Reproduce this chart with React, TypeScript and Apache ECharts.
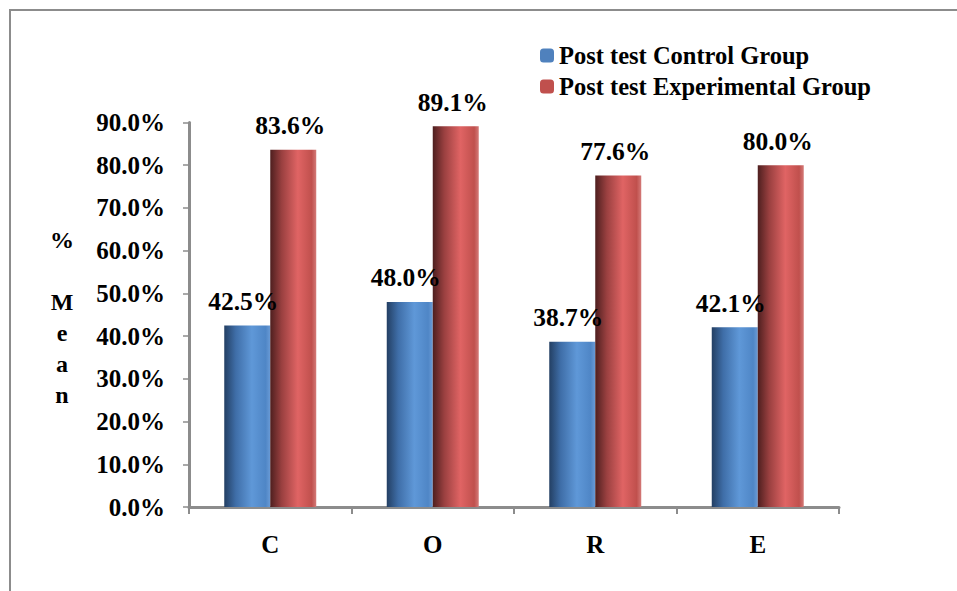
import React, { useEffect, useRef } from "react";
import * as echarts from "echarts";

const categories = ["C", "O", "R", "E"];
const controlValues = [42.5, 48.0, 38.7, 42.1];
const experimentalValues = [83.6, 89.1, 77.6, 80.0];
const seriesNames = ["Post test Control Group", "Post test Experimental Group"];
const yTicks = [0, 10, 20, 30, 40, 50, 60, 70, 80, 90];

const FONT = "'Liberation Serif', 'Times New Roman', serif";

const blueGrad = new echarts.graphic.LinearGradient(0, 0, 1, 0, [
  { offset: 0, color: "#233f63" },
  { offset: 0.25, color: "#3f6ea8" },
  { offset: 0.6, color: "#5f98d8" },
  { offset: 0.9, color: "#4f86c6" },
  { offset: 1, color: "#6a9bd6" },
]);
const redGrad = new echarts.graphic.LinearGradient(0, 0, 1, 0, [
  { offset: 0, color: "#4e1f1f" },
  { offset: 0.25, color: "#9a4040" },
  { offset: 0.6, color: "#e06464" },
  { offset: 0.9, color: "#c0504d" },
  { offset: 1, color: "#d47a78" },
]);

export default function App() {
  const ref = useRef<HTMLDivElement>(null);
  useEffect(() => {
    const chart = echarts.init(ref.current!, null, { renderer: "svg" });
    const labelStyle = {
      show: true,
      position: "top",
      distance: 11,
      fontFamily: FONT,
      fontWeight: "bold",
      fontSize: 25.5,
      color: "#000",
      formatter: (p: any) => p.value.toFixed(1) + "%",
    };
    chart.setOption({
      animation: false,
      backgroundColor: "#fff",
      graphic: [
        {
          type: "rect",
          shape: { x: 10, y: 10, width: 980, height: 620 },
          style: { fill: "none", stroke: "#8c8c8c", lineWidth: 2 },
          silent: true,
        },
        {
          type: "text",
          x: 62,
          y: 224,
          style: {
            text: "%\n\nM\ne\na\nn",
            fontFamily: FONT,
            fontWeight: "bold",
            fontSize: 24,
            lineHeight: 31,
            align: "center",
            fill: "#000",
          },
        },
      ],
      legend: {
        orient: "vertical",
        left: 535,
        top: 38,
        itemWidth: 14,
        itemHeight: 14,
        itemGap: 6,
        textStyle: { fontFamily: FONT, fontWeight: "bold", fontSize: 24.5, color: "#000" },
        data: [
          { name: seriesNames[0], itemStyle: { color: "#4f81bd" } },
          { name: seriesNames[1], itemStyle: { color: "#c0504d" } },
        ],
      },
      grid: { left: 189, right: 118, top: 122.5, bottom: 84 },
      xAxis: {
        type: "category",
        data: categories,
        axisLine: { lineStyle: { color: "#8c8c8c", width: 3 } },
        axisTick: { show: true, length: 7, lineStyle: { color: "#8c8c8c", width: 2 } },
        axisLabel: { fontFamily: FONT, fontWeight: "bold", fontSize: 25, color: "#000", margin: 25 },
      },
      yAxis: {
        type: "value",
        min: yTicks[0],
        max: yTicks[yTicks.length - 1],
        interval: 10,
        splitLine: { show: false },
        axisLine: { show: true, lineStyle: { color: "#8c8c8c", width: 3 } },
        axisTick: { show: true, length: 6, lineStyle: { color: "#8c8c8c", width: 1.5 } },
        axisLabel: {
          fontFamily: FONT,
          fontWeight: "bold",
          fontSize: 25,
          color: "#000",
          margin: 24,
          formatter: (v: number) => v.toFixed(1) + "%",
        },
      },
      series: [
        {
          name: seriesNames[0],
          type: "bar",
          data: controlValues,
          barWidth: 46,
          barGap: "0%",
          itemStyle: { color: blueGrad },
          label: { ...labelStyle, offset: [-4, 0] },
        },
        {
          name: seriesNames[1],
          type: "bar",
          data: experimentalValues,
          barWidth: 46,
          itemStyle: { color: redGrad },
          label: { ...labelStyle, offset: [-3, 0] },
        },
      ],
    });
    return () => chart.dispose();
  }, []);
  return <div ref={ref} style={{ width: 957, height: 591, position: "absolute", left: 0, top: 0 }} />;
}
